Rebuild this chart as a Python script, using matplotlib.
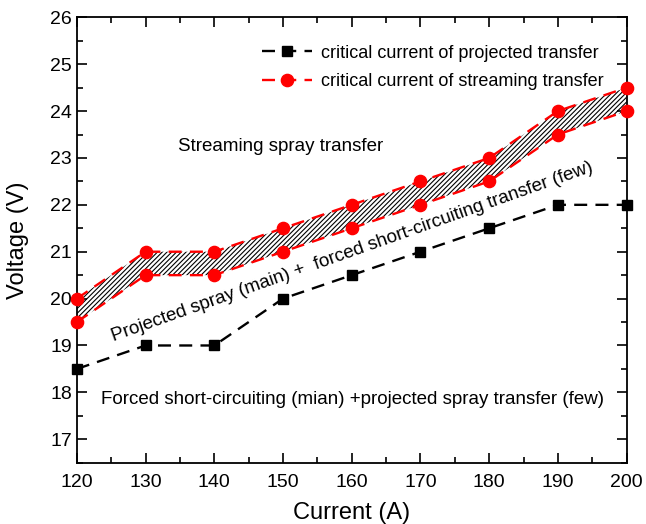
import matplotlib
matplotlib.use('Agg')
from matplotlib import pyplot as plt
from matplotlib.ticker import MultipleLocator

plt.rcParams['font.family'] = ['Liberation Sans', 'DejaVu Sans']
plt.rcParams['hatch.linewidth'] = 0.8

current = [120, 130, 140, 150, 160, 170, 180, 190, 200]
projected = [18.5, 19, 19, 20, 20.5, 21, 21.5, 22, 22]
stream_hi = [20, 21, 21, 21.5, 22, 22.5, 23, 24, 24.5]
stream_lo = [19.5, 20.5, 20.5, 21, 21.5, 22, 22.5, 23.5, 24]

fig = plt.figure(figsize=(6.46, 5.24), dpi=100)
ax = fig.add_axes([0.119, 0.117, 0.851, 0.850])

ax.fill_between(current, stream_lo, stream_hi, facecolor='white', edgecolor='black',
                hatch='///////', linewidth=0, zorder=1)
ax.plot(current, projected, 'k--', marker='s', markersize=7, lw=1.7, dashes=(5.5, 3.5),
        label='critical current of projected transfer', zorder=3, clip_on=False)
ax.plot(current, stream_hi, '--', color='red', marker='o', markersize=8.8, lw=1.7, dashes=(5.5, 3.5),
        label='critical current of streaming transfer', zorder=3, clip_on=False)
ax.plot(current, stream_lo, '--', color='red', marker='o', markersize=8.8, lw=1.7, dashes=(5.5, 3.5),
        zorder=3, clip_on=False)

ax.text(149.7, 23.25, 'Streaming spray transfer', fontsize=13.5, ha='center', va='center')
ax.text(160.1, 21.0, 'Projected spray (main) +  forced short-circuiting transfer (few)',
        fontsize=13.5, ha='center', va='center', rotation=19.5, rotation_mode='anchor')
ax.text(160.1, 17.84, 'Forced short-circuiting (mian) +projected spray transfer (few)',
        fontsize=13.5, ha='center', va='center')

ax.set_xlim(120, 200)
ax.set_ylim(16.5, 26)
ax.xaxis.set_major_locator(MultipleLocator(10))
ax.xaxis.set_minor_locator(MultipleLocator(5))
ax.yaxis.set_major_locator(MultipleLocator(1))
ax.yaxis.set_minor_locator(MultipleLocator(0.5))
ax.tick_params(which='both', direction='in', top=True, right=True, labelsize=14, width=1.2)
ax.tick_params(which='major', length=7)
ax.tick_params(which='minor', length=4)
ax.tick_params(axis='x', pad=8)
for s in ax.spines.values():
    s.set_linewidth(1.3)

ax.set_xlabel('Current (A)', fontsize=17, labelpad=8)
ax.set_ylabel('Voltage (V)', fontsize=17, labelpad=15)

ax.legend(loc='upper right', frameon=False, fontsize=13, handlelength=2.8,
          handletextpad=0.5, bbox_to_anchor=(0.988, 0.975), labelspacing=0.65)

fig.savefig('out.png', dpi=100)
